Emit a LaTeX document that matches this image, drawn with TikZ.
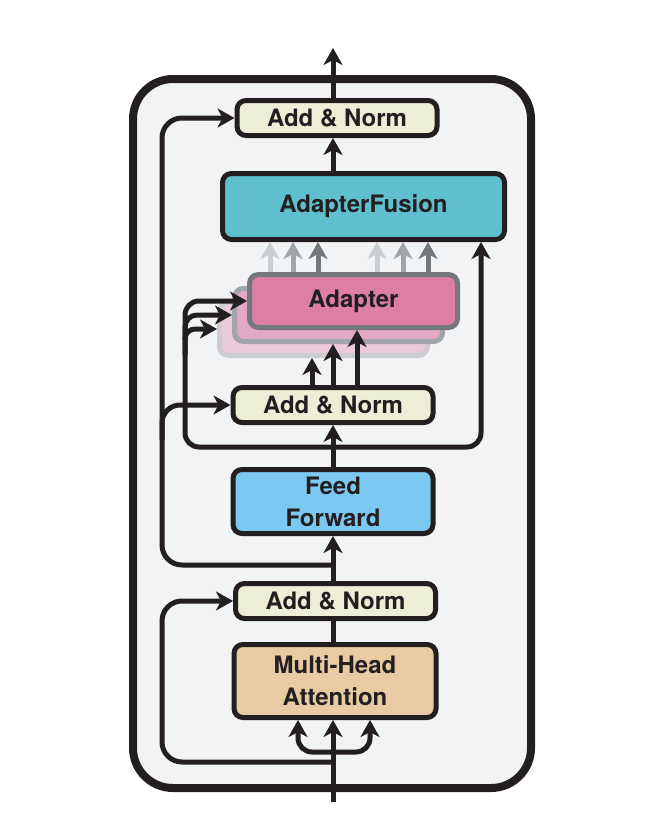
\documentclass[tikz,border=0pt]{standalone}
\usepackage{fontspec}
\setmainfont{TeX Gyre Heros}
\usetikzlibrary{arrows.meta}
\definecolor{layerbg}{HTML}{F2F3F5}
\definecolor{ink}{HTML}{231F20}
\definecolor{normfill}{HTML}{EDEED6}
\definecolor{fusionfill}{HTML}{5FBFCE}
\definecolor{ffnfill}{HTML}{7BC8F0}
\definecolor{mhafill}{HTML}{E8CBA3}
\definecolor{adfillA}{HTML}{DD7FA5}
\definecolor{adfillB}{HTML}{E3A8C3}
\definecolor{adfillC}{HTML}{EDCADB}
\definecolor{grayA}{HTML}{74787C}
\definecolor{grayB}{HTML}{A1A5A9}
\definecolor{grayC}{HTML}{CBCED1}

\begin{document}
\begin{tikzpicture}[x=1pt,y=-1pt,
  box/.style={draw=ink,line width=5pt,rounded corners=9pt,text=ink,
    font=\fontsize{24}{32}\selectfont\bfseries,align=center,inner sep=0pt},
  norm/.style={box,fill=normfill,minimum width=200pt,minimum height=35pt},
  adapter/.style={box,minimum width=208pt,minimum height=53pt},
  arr/.style={draw=ink,line width=5pt,-{Stealth[length=17pt,width=19pt,inset=5pt]}},
  lane/.style={draw=ink,line width=5pt}]
\useasboundingbox (0,0) rectangle (660,830);
\node[draw=ink,line width=8pt,fill=layerbg,rounded corners=40pt,
  minimum width=398pt,minimum height=709pt] (layer) at (332,433.5) {};

% blocks
\node[norm] (normTop) at (337,118) {Add \& Norm};
\node[box,fill=fusionfill,minimum width=282pt,minimum height=66pt] (fusion) at (363.5,206.5) {AdapterFusion};
\node[adapter,draw=grayC,fill=adfillC] (adC) at (323.5,329) {};
\node[adapter,draw=grayB,fill=adfillB] (adB) at (338.5,315) {};
\node[adapter,draw=grayA,fill=adfillA] (adA) at (353.5,301) {Adapter};
\node[norm] (normMid) at (333,405) {Add \& Norm};
\node[box,fill=ffnfill,minimum width=200pt,minimum height=64pt] (ffn) at (333,501.5) {Feed\\Forward};
\node[norm] (normBot) at (335.5,601) {Add \& Norm};
\node[box,fill=mhafill,minimum width=202pt,minimum height=73pt] (mha) at (335,681) {Multi-Head\\Attention};

\coordinate (spine) at (333,0);
\coordinate (laneL) at (162,0);
\coordinate (laneM) at (185,0);
\coordinate (laneR) at (481,0);
\coordinate (out) at (333,48);
\coordinate (in) at (333,802);
\coordinate (tapIn) at (333,752);
\coordinate (tapSkip) at (333,762);
\coordinate (tapA) at (333,565);
\coordinate (tapB) at (333,447);
\coordinate (forkM) at (162,440);
\coordinate (forkB) at (185,340);
\coordinate (forkC) at (185,355);

% main path
\draw[arr] (in) -- (spine |- mha.south);
\foreach \dx in {-37,35}
  \draw[arr,rounded corners=14pt] (tapIn) -| ([xshift=\dx pt]mha.south);
\draw[lane] (spine |- mha.north) -- (spine |- normBot.south);
\draw[arr] (spine |- normBot.north) -- (spine |- ffn.south);
\draw[arr] (spine |- ffn.north) -- (spine |- normMid.south);
\draw[arr] (spine |- fusion.north) -- (spine |- normTop.south);
\draw[arr] (spine |- normTop.north) -- (out);

% residuals
\draw[arr,rounded corners=20pt] (tapSkip) -| (laneL |- normBot.west) -- (normBot.west);
\draw[arr,rounded corners=20pt] (tapA) -| (laneL |- normTop.west) -- (normTop.west);
\draw[arr,rounded corners=18pt] (forkM) |- (normMid.west);
\draw[arr,rounded corners=14pt] (tapB) -| (laneM |- adA.west) -- (adA.west);
\draw[arr,rounded corners=14pt] (tapB) -| (laneR |- fusion.south);
\draw[arr,rounded corners=12pt] (forkB) |- (adB.west);
\draw[arr,rounded corners=10pt] (forkC) |- (adC.west);

% into and out of the adapters
\foreach \dx/\t in {-21/adC,0/adB,24/adA} {
  \path (spine |- normMid.north) ++(\dx,0) coordinate (u);
  \draw[arr] (u) -- (u |- \t.south);
}
\foreach \dx/\c in {-83.5/grayC,-60.5/grayB,-35.5/grayA,23.5/grayC,49.5/grayB,74.5/grayA} {
  \path (adA.north) ++(\dx,0) coordinate (g);
  \draw[arr,draw=\c] (g) -- (g |- fusion.south);
}
\end{tikzpicture}
\end{document}
